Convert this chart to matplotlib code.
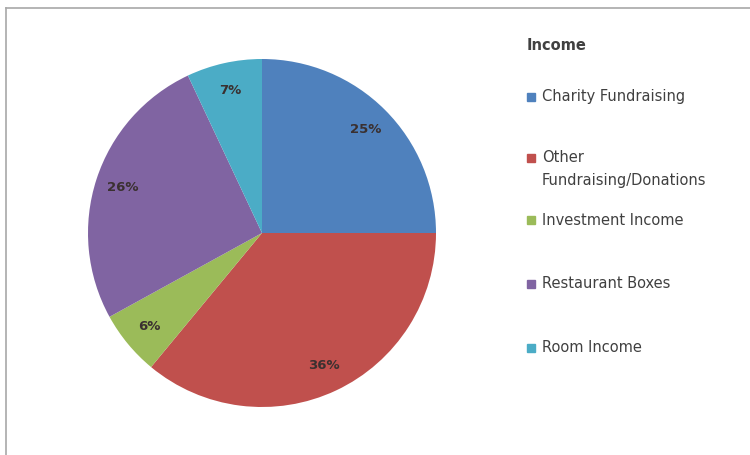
import matplotlib
matplotlib.use("Agg")
import matplotlib.pyplot as plt
from matplotlib.patches import Rectangle
from matplotlib.lines import Line2D

categories = ["Charity Fundraising", "Other\nFundraising/Donations", "Investment Income",
              "Restaurant Boxes", "Room Income"]
values = [25, 36, 6, 26, 7]
colors = ["#4F81BD", "#C0504D", "#9BBB59", "#8064A2", "#4BACC6"]
legend_title = "Income"

W, H = 750, 455
fig = plt.figure(figsize=(W / 100, H / 100), dpi=100)
fig.patch.set_facecolor("white")

# frame lines (top, left)
fig.add_artist(Line2D([6 / W, 1], [1 - 8 / H, 1 - 8 / H], color="#a8a8a8", lw=1.2))
fig.add_artist(Line2D([6 / W, 6 / W], [1 - 8 / H, 0], color="#a8a8a8", lw=1.2))

cx, cy, r = 262, 233, 174
ax = fig.add_axes([(cx - r) / W, 1 - (cy + r) / H, 2 * r / W, 2 * r / H])
wedges, texts, autotexts = ax.pie(values, colors=colors, startangle=90, counterclock=False,
                                  autopct="%d%%", pctdistance=0.84, radius=1.0,
                                  wedgeprops=dict(linewidth=0))
for t in autotexts:
    t.set_fontsize(9.5)
    t.set_fontweight("bold")
    t.set_color("#3a3030")
    t.set_family("DejaVu Sans")
ax.set_xlim(-1, 1)
ax.set_ylim(-1, 1)
ax.set_aspect("equal")
ax.axis("off")

# legend
fig.text(527 / W, 1 - 46 / H, legend_title, fontsize=10.5, fontweight="bold", color="#404040",
         family="DejaVu Sans", va="center", ha="left")
ys = [97, 158, 220, 284, 348]
for cat, col, y in zip(categories, colors, ys):
    fig.add_artist(Rectangle((527 / W, 1 - (y + 4) / H), 8 / W, 8 / H, color=col,
                             transform=fig.transFigure))
    if "\n" in cat:
        fig.text(542 / W, 1 - (y - 8) / H, cat, fontsize=10.5, color="#404040",
                 family="DejaVu Sans", va="top", ha="left", linespacing=1.65)
    else:
        fig.text(542 / W, 1 - y / H, cat, fontsize=10.5, color="#404040",
                 family="DejaVu Sans", va="center", ha="left")

fig.savefig("out.png", dpi=100, facecolor="white")
